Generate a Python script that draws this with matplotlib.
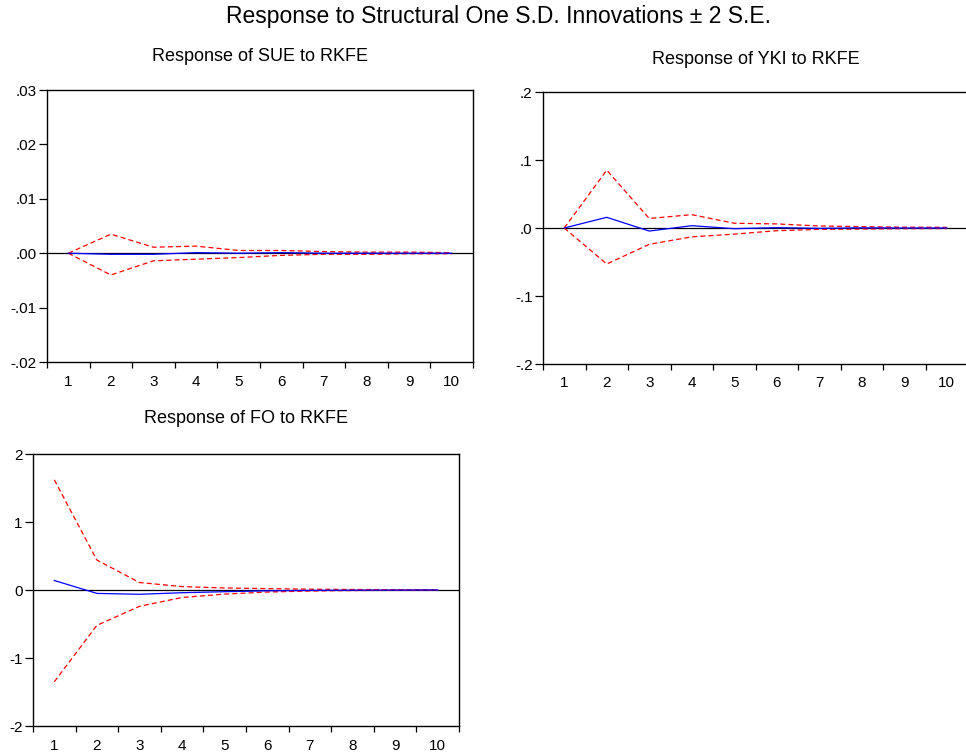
import matplotlib
matplotlib.use("Agg")
import matplotlib.pyplot as plt
import numpy as np

plt.rcParams['font.family'] = ['Liberation Sans', 'DejaVu Sans']

periods = [1, 2, 3, 4, 5, 6, 7, 8, 9, 10]

sue_resp = [0.0, -0.0002, -0.0002, 0.0001, 0.0, 0.0001, 0.0, 0.0, 0.0, 0.0]
sue_upper = [0.0, 0.0035, 0.0011, 0.0013, 0.0005, 0.0005, 0.0003, 0.0002, 0.0002, 0.0001]
sue_lower = [0.0, -0.0040, -0.0014, -0.0011, -0.0008, -0.0004, -0.0002, -0.0002, -0.0001, -0.0001]

yki_resp = [0.0, 0.0157, -0.0045, 0.0034, -0.001, 0.0005, -0.0005, 0.0002, 0.0, 0.0]
yki_upper = [0.0, 0.085, 0.014, 0.0196, 0.007, 0.006, 0.003, 0.002, 0.0012, 0.001]
yki_lower = [0.0, -0.053, -0.024, -0.013, -0.009, -0.004, -0.002, -0.0015, -0.001, -0.0008]

fo_resp = [0.14, -0.05, -0.063, -0.04, -0.025, -0.012, -0.006, -0.003, -0.001, 0.0]
fo_upper = [1.62, 0.44, 0.11, 0.05, 0.03, 0.02, 0.012, 0.008, 0.005, 0.003]
fo_lower = [-1.35, -0.52, -0.24, -0.11, -0.06, -0.03, -0.015, -0.008, -0.005, -0.003]

panels = [
    ("Response of SUE to RKFE", sue_resp, sue_upper, sue_lower,
     [-0.02, -0.01, 0.0, 0.01, 0.02, 0.03], ['-.02', '-.01', '.00', '.01', '.02', '.03'],
     (-0.02, 0.03), (47, 90, 473, 362), 21),
    ("Response of YKI to RKFE", yki_resp, yki_upper, yki_lower,
     [-0.2, -0.1, 0.0, 0.1, 0.2], ['-.2', '-.1', '.0', '.1', '.2'],
     (-0.2, 0.2), (543, 92, 968, 364), 20.5),
    ("Response of FO to RKFE", fo_resp, fo_upper, fo_lower,
     [-2, -1, 0, 1, 2], ['-2', '-1', '0', '1', '2'],
     (-2, 2), (33, 454, 459, 726), 22),
]

W, H = 966, 756
fig = plt.figure(figsize=(W / 100, H / 100), dpi=100)
fig.text(499 / W, 1 - 17 / H, "Response to Structural One S.D. Innovations \u00b1 2 S.E.",
         ha='center', va='center', fontsize=16.5)

for title, resp, up, lo, yt, ytl, ylim, (l, t, r, b), tpad in panels:
    ax = fig.add_axes([l / W, 1 - b / H, (r - l) / W, (b - t) / H])
    ax.axhline(0, color='black', lw=0.9, zorder=1)
    ax.plot(periods, up, color='red', lw=0.9, ls=(0, (4, 2.5)), zorder=2)
    ax.plot(periods, lo, color='red', lw=0.9, ls=(0, (4, 2.5)), zorder=2)
    ax.plot(periods, resp, color='blue', lw=0.9, zorder=3)
    ax.set_xlim(0.5, 10.5)
    ax.set_ylim(*ylim)
    ax.set_yticks(yt)
    ax.set_yticklabels(ytl)
    ax.set_xticks(periods)
    ax.set_xticklabels([str(p) for p in periods])
    ax.set_xticks(np.arange(0.5, 11.0, 1.0), minor=True)
    ax.tick_params(axis='x', which='major', length=0, pad=9, labelsize=11)
    ax.tick_params(axis='x', which='minor', length=4.5, width=0.9, direction='out')
    ax.tick_params(axis='y', which='major', length=5.5, width=0.9, direction='out', pad=2, labelsize=11)
    for s in ax.spines.values():
        s.set_linewidth(1.0)
        s.set_color('black')
    ax.set_title(title, fontsize=13, pad=tpad)

fig.savefig("out.png", dpi=100)
